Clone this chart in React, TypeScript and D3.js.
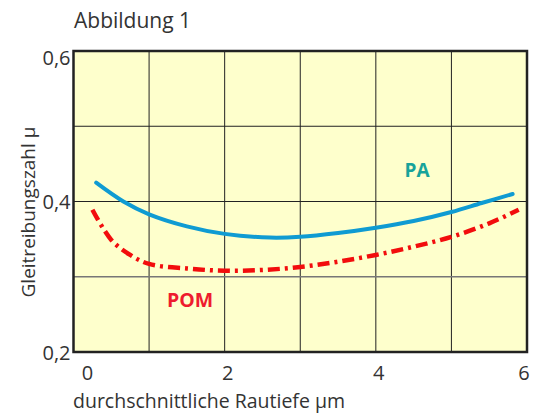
import React from "react";
import * as d3 from "d3";

const paX = [0.3, 0.66, 1, 1.5, 2, 2.6, 3, 3.5, 4, 4.5, 5, 5.4, 5.81];
const paY = [0.425, 0.4, 0.383, 0.367, 0.357, 0.352, 0.353, 0.358, 0.365, 0.374, 0.386, 0.398, 0.41];
const pomX = [0.25, 0.5, 0.75, 1, 1.5, 2, 2.5, 3, 3.5, 4, 4.5, 5, 5.5, 5.89];
const pomY = [0.389, 0.349, 0.329, 0.317, 0.311, 0.308, 0.309, 0.313, 0.32, 0.329, 0.34, 0.353, 0.371, 0.389];
const xTicks = [0, 2, 4, 6];
const xGrid = [1, 2, 3, 4, 5];
const yTicks = [0.2, 0.4, 0.6];
const yGrid = [0.3, 0.4, 0.5];

const W = 539, H = 413;
const left = 73.5, right = 527, top = 51, bottom = 352;
const font = "'Open Sans', sans-serif";

export default function App() {
  const x = d3.scaleLinear().domain([0, 6]).range([left, right]);
  const y = d3.scaleLinear().domain([0.2, 0.6]).range([bottom, top]);
  const line = d3.line<[number, number]>().x(d => x(d[0])).y(d => y(d[1])).curve(d3.curveCatmullRom.alpha(0.5));
  const pa = line(paX.map((v, i) => [v, paY[i]] as [number, number])) || "";
  const pom = line(pomX.map((v, i) => [v, pomY[i]] as [number, number])) || "";
  const fmt = (v: number) => v.toFixed(1).replace(".", ",");
  return (
    <svg width={W} height={H} style={{ position: "absolute", left: 0, top: 0 }}>
      <rect x={0} y={0} width={W} height={H} fill="#fff" />
      <text x={74} y={28} fontFamily={font} fontSize={21} fill="#333">Abbildung 1</text>
      <rect x={left} y={top} width={right - left} height={bottom - top} fill="#feffcc" />
      {xGrid.map(v => (
        <line key={"xg" + v} x1={x(v)} x2={x(v)} y1={top} y2={bottom} stroke="#222" strokeWidth={1} />
      ))}
      {yGrid.map(v => (
        <line key={"yg" + v} x1={left} x2={right} y1={y(v)} y2={y(v)} stroke={v === 0.3 ? "#777" : "#222"} strokeWidth={v === 0.3 ? 1.5 : 1} />
      ))}
      <path d={pa} fill="none" stroke="#0f9bd2" strokeWidth={4} strokeLinecap="round" />
      <path d={pom} fill="none" stroke="#f20d0d" strokeWidth={4.5} strokeDasharray="12,5,3,5" strokeLinecap="butt" />
      <rect x={left} y={top} width={right - left} height={bottom - top} fill="none" stroke="#222" strokeWidth={2.5} />
      {yTicks.map(v => (
        <text key={"yt" + v} x={left - 3} y={y(v) + (v === 0.6 ? 6 : 0)} textAnchor="end" dominantBaseline="central" fontFamily={font} fontSize={20} fill="#333">{fmt(v)}</text>
      ))}
      {xTicks.map(v => (
        <text key={"xt" + v} x={x(v) + (v === 0 ? 14 : v === 6 ? -3 : 3)} y={380} textAnchor="middle" fontFamily={font} fontSize={20} fill="#333">{v}</text>
      ))}
      <text x={73} y={408} fontFamily={font} fontSize={19.5} fill="#333">durchschnittliche Rautiefe µm</text>
      <text transform={`translate(35,212) rotate(-90)`} textAnchor="middle" fontFamily={font} fontSize={19} fill="#333">Gleitreibungszahl µ</text>
      <text x={417} y={177} textAnchor="middle" fontFamily={font} fontSize={19} fontWeight="bold" fill="#17a39a">PA</text>
      <text x={190} y={307} textAnchor="middle" fontFamily={font} fontSize={19.5} fontWeight="bold" fill="#ee1c2e">POM</text>
    </svg>
  );
}
